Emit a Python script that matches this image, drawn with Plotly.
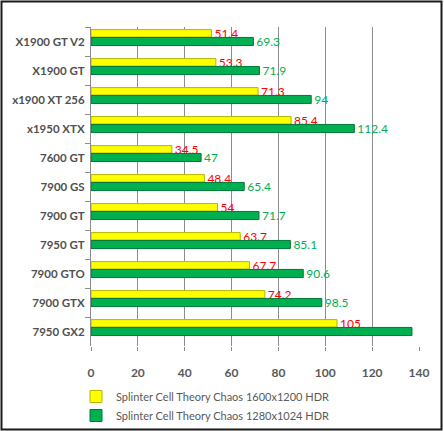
import plotly.graph_objects as go

categories = ["X1900 GT V2", "X1900 GT", "x1900 XT 256", "x1950 XTX", "7600 GT",
              "7900 GS", "7900 GT", "7950 GT", "7900 GTO", "7900 GTX", "7950 GX2"]
hdr_1600 = [51.4, 53.3, 71.3, 85.4, 34.5, 48.4, 54, 63.7, 67.7, 74.2, 105]
hdr_1280 = [69.3, 71.9, 94, 112.4, 47, 65.4, 71.7, 85.1, 90.6, 98.5, 137]
labels_1600 = ["51.4", "53.3", "71.3", "85.4", "34.5", "48.4", "54", "63.7", "67.7", "74.2", "105"]
labels_1280 = ["69.3", "71.9", "94", "112.4", "47", "65.4", "71.7", "85.1", "90.6", "98.5", ""]
x_ticks = [0, 20, 40, 60, 80, 100, 120, 140]
name_1600 = "Splinter Cell Theory Chaos 1600x1200 HDR"
name_1280 = "Splinter Cell Theory Chaos 1280x1024 HDR"

FONT = "Lato"

fig = go.Figure()
fig.add_trace(go.Bar(
    y=categories, x=hdr_1600, orientation="h", name=name_1600,
    width=0.26, offset=-0.41,
    marker=dict(color="#ffff00", line=dict(color="#b5b500", width=1)),
    text=labels_1600, textposition="outside", constraintext="none",
    outsidetextfont=dict(color="#ff0000", size=12, family=FONT),
    cliponaxis=False,
))
fig.add_trace(go.Bar(
    y=categories, x=hdr_1280, orientation="h", name=name_1280,
    width=0.28, offset=-0.14,
    marker=dict(color="#00b050", line=dict(color="#00773a", width=1)),
    text=labels_1280, textposition="outside", constraintext="none",
    outsidetextfont=dict(color="#00b050", size=12, family=FONT),
    cliponaxis=False,
))

L, R, T, B = 91, 25, 27, 85
W, H = 444, 431
pw, ph = W - L - R, H - T - B
def px(x): return (x - L) / pw
def py(y): return (H - B - y) / ph

fig.update_layout(
    width=W, height=H,
    margin=dict(l=L, r=R, t=T, b=B, pad=0, autoexpand=False),
    paper_bgcolor="white", plot_bgcolor="white",
    barmode="overlay",
    font=dict(family=FONT, size=11, color="#595959"),
    showlegend=True,
    legend=dict(orientation="v", x=px(76), xanchor="left", y=py(382), yanchor="top",
                itemwidth=30,
                font=dict(size=11, color="#595959", family=FONT),
                bgcolor="rgba(0,0,0,0)", tracegroupgap=0),
    shapes=[dict(type="rect", xref="paper", yref="paper",
                 x0=px(1.5), x1=px(441.5), y0=py(429.5), y1=py(1.5),
                 line=dict(color="#1a1a1a", width=2), layer="above")],
    xaxis=dict(range=[0, 140], tickvals=x_ticks, showgrid=True, gridcolor="#8c8c8c",
               gridwidth=1, zeroline=False, showline=False, automargin=False,
               ticks="outside", ticklen=4, tickcolor="#8c8c8c",
               ticklabelstandoff=12,
               tickfont=dict(size=12, color="#595959", family=FONT, weight="bold")),
    yaxis=dict(autorange="reversed", showgrid=False, showline=True, linecolor="#8c8c8c",
               ticks="outside", ticklen=5, tickcolor="#8c8c8c", tickson="boundaries",
               ticklabelstandoff=3, automargin=False,
               tickfont=dict(size=11.5, color="#505050", family=FONT, weight="bold")),
)

fig.write_html("out.html", config={"displayModeBar": False},
               post_script="document.body.style.margin='0';document.body.style.overflow='hidden';")
